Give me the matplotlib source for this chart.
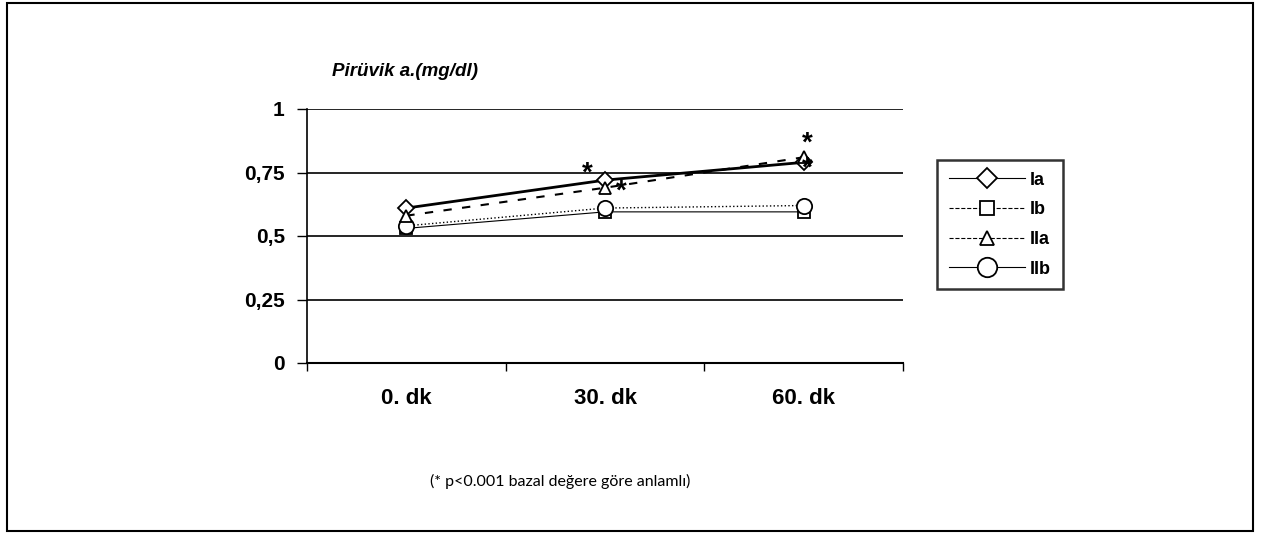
import numpy as np
import matplotlib.pyplot as plt
from matplotlib.lines import Line2D
from matplotlib.patches import Rectangle

## data
times = ['0. dk', '30. dk', '60. dk']
Ia = [0.61, 0.72, 0.79]
Ib = [0.53, 0.595, 0.595]
IIa = [0.58, 0.69, 0.81]
IIb = [0.54, 0.61, 0.62]
yticks = [0, 0.25, 0.5, 0.75, 1]
ylabels = ['0', '0,25', '0,5', '0,75', '1']
# significance marks (* p<0.001): (time index, value)
stars = [(1, 0.745), (1, 0.675), (2, 0.865), (2, 0.765)]

plt.rcParams['font.family'] = ['Liberation Sans', 'DejaVu Sans']

fig = plt.figure(figsize=(12.61, 5.33), dpi=100)
fig.patches.append(Rectangle((7/1261, 1-531/533), 1246/1261, 528/533,
                             transform=fig.transFigure, fill=False,
                             edgecolor='black', linewidth=1.5))

ax = fig.add_axes([307/1261, 1-363/533, 596/1261, 254/533])
x = np.arange(len(times)) + 0.5

mk = dict(markerfacecolor='white', markeredgecolor='black', markeredgewidth=1.3, color='black')
ax.plot(x, Ia, '-', marker='D', markersize=8, linewidth=2, zorder=4, **mk)
ax.plot(x, IIa, '--', marker='^', markersize=9, linewidth=1.5, dashes=(4, 5), zorder=5, **mk)
ax.plot(x, Ib, '-', marker='s', markersize=8, linewidth=0.8, zorder=3, **mk)
ax.plot(x, IIb, ':', marker='o', markersize=11, linewidth=1.0, zorder=3, **mk)

for i, v in stars:
    off = -0.09 if (i == 1 and v > 0.7) else (0.08 if i == 1 else 0.02)
    ax.text(x[i] + off, v, '*', ha='center', va='center', fontsize=20,
            fontweight='bold', color='black', zorder=6)

ax.set_xlim(0, 3)
ax.set_ylim(0, 1)
ax.set_yticks(yticks)
ax.set_yticklabels(ylabels, fontsize=15, fontweight='bold')
ax.set_xticks([0, 1, 2, 3])
ax.set_xticklabels([])
ax.set_xticks(x, minor=True)
ax.set_xticklabels(times, minor=True, fontsize=16, fontweight='bold')
ax.tick_params(axis='x', which='minor', length=0, pad=18)
ax.tick_params(axis='x', which='major', direction='out', length=6, width=1)
ax.tick_params(axis='y', direction='out', length=7, width=1, pad=9)
ax.grid(axis='y', color='black', linewidth=1.2)
ax.set_axisbelow(True)
for s in ['top', 'right']:
    ax.spines[s].set_visible(False)
ax.spines['left'].set_linewidth(1.2)
ax.spines['bottom'].set_linewidth(1.5)

fig.text(332/1261, 1-72/533, 'Pirüvik a.(mg/dl)', fontsize=13.5, fontstyle='italic',
         fontweight='bold', va='center', ha='left')

handles = [
    Line2D([], [], linestyle='-', marker='D', markersize=10, linewidth=0.8, **mk),
    Line2D([], [], linestyle='--', marker='s', markersize=10, linewidth=0.8, **mk),
    Line2D([], [], linestyle='--', marker='^', markersize=10, linewidth=0.8, **mk),
    Line2D([], [], linestyle='-', marker='o', markersize=14, linewidth=0.8, **mk),
]
leg = fig.legend(handles, ['Ia', 'Ib', 'IIa', 'IIb'], loc='upper left',
                 bbox_to_anchor=(937/1261, 1-160/533), frameon=True, fancybox=False,
                 edgecolor='black', handlelength=4.2, labelspacing=0.7,
                 borderpad=0.65, handletextpad=0.3, borderaxespad=0,
                 prop={'weight': 'bold', 'size': 13})
leg.get_frame().set_linewidth(1.8)

fig.text(560/1261, 1-481/533, '(* p<0.001 bazal değere göre anlamlı)', fontsize=11.5,
         family=['Lato', 'DejaVu Sans'], ha='center', va='center')

fig.savefig('out.png', dpi=100)
